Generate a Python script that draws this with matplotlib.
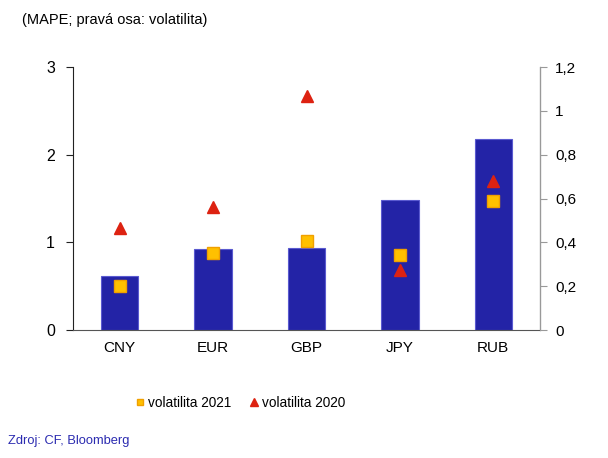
import matplotlib.pyplot as plt
from matplotlib.ticker import FuncFormatter

plt.rcParams['font.family'] = ['Liberation Sans', 'DejaVu Sans']

# data
currencies = ['CNY', 'EUR', 'GBP', 'JPY', 'RUB']
mape = [0.62, 0.92, 0.93, 1.48, 2.18]
vol_2021 = [0.20, 0.35, 0.405, 0.34, 0.587]
vol_2020 = [0.464, 0.563, 1.067, 0.274, 0.681]

fig = plt.figure(figsize=(6.08, 4.58), dpi=100)
ax = fig.add_axes([73 / 608, 1 - 330 / 458, 467 / 608, 263 / 458])
ax2 = ax.twinx()

x = range(len(currencies))
ax.bar(x, mape, width=0.4, color='#2323A6', edgecolor='#5A5AD0', linewidth=0.8, zorder=2)
ax2.plot(x, vol_2021, linestyle='none', marker='s', markersize=8,
         color='#FFC000', markeredgecolor='#F0A000', label='volatilita 2021', zorder=3)
ax2.plot(x, vol_2020, linestyle='none', marker='^', markersize=8.5,
         color='#DD2211', markeredgecolor='#DD2211', label='volatilita 2020', zorder=3)

ax.set_xlim(-0.5, 4.5)
ax.set_ylim(0, 3)
ax.set_yticks([0, 1, 2, 3])
ax2.set_ylim(0, 1.2)
ax2.set_yticks([0, 0.2, 0.4, 0.6, 0.8, 1.0, 1.2])
ax2.yaxis.set_major_formatter(FuncFormatter(lambda v, p: f'{v:g}'.replace('.', ',')))

ax.set_xticks(list(x))
ax.set_xticklabels(currencies)
ax.tick_params(axis='x', length=0, pad=8, labelsize=11)
ax.tick_params(axis='y', direction='out', length=5, labelsize=11.5, pad=8, color='#222222')
ax2.tick_params(axis='y', direction='out', length=5, labelsize=11, pad=6, color='#999999')

for a in (ax, ax2):
    a.spines['top'].set_visible(False)
ax.spines['left'].set_color('#222222')
ax.spines['bottom'].set_color('#555555')
ax2.spines['left'].set_visible(False)
ax2.spines['bottom'].set_visible(False)
ax2.spines['right'].set_color('#999999')

ax2.legend(loc='center', bbox_to_anchor=(241 / 608, 1 - 403 / 458),
           bbox_transform=fig.transFigure, ncol=2, frameon=False, fontsize=9.8,
           handlelength=0.5, handletextpad=0.35, columnspacing=1.4, markerscale=0.6)

fig.text(22 / 608, 1 - 20 / 458, '(MAPE; pravá osa: volatilita)', fontsize=10.5, va='center', ha='left')
fig.text(8 / 608, 1 - 441 / 458, 'Zdroj: CF, Bloomberg', fontsize=9.3, va='center', ha='left', color='#2B2BB0')

fig.savefig('out.png', dpi=100)
